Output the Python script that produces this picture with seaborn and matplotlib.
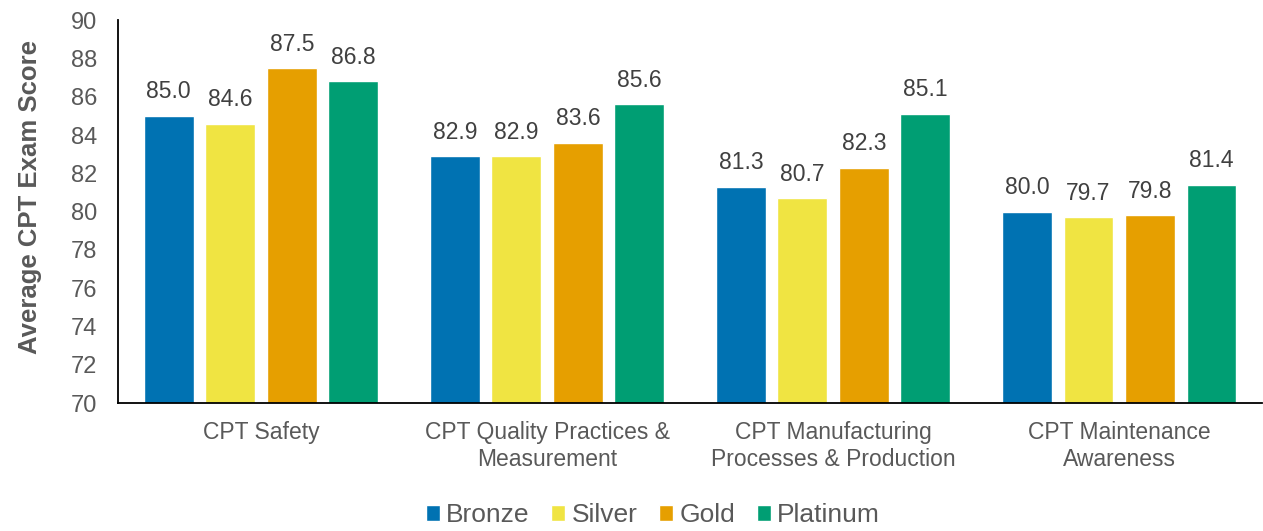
import matplotlib
matplotlib.use("Agg")
import matplotlib.pyplot as plt
import pandas as pd
import seaborn as sns

categories = ["CPT Safety", "CPT Quality Practices &\nMeasurement",
              "CPT Manufacturing\nProcesses & Production", "CPT Maintenance\nAwareness"]
levels = ["Bronze", "Silver", "Gold", "Platinum"]
bronze = [85.0, 82.9, 81.3, 80.0]
silver = [84.6, 82.9, 80.7, 79.7]
gold = [87.5, 83.6, 82.3, 79.8]
platinum = [86.8, 85.6, 85.1, 81.4]
colors = ["#0072B2", "#F0E442", "#E69F00", "#009E73"]

rows = []
for lvl, vals in zip(levels, [bronze, silver, gold, platinum]):
    for cat, v in zip(categories, vals):
        rows.append({"category": cat, "level": lvl, "score": v})
df = pd.DataFrame(rows)

sns.set_style("white")
plt.rcParams["font.family"] = ["Liberation Sans", "DejaVu Sans"]
grey = "#595959"

fig = plt.figure(figsize=(12.63, 5.31), dpi=100)
ax = fig.add_axes([0.0934, 0.241, 0.906, 0.721])

sns.barplot(data=df, x="category", y="score", hue="level", palette=colors,
            saturation=1, width=0.86, gap=0.19, ax=ax, errorbar=None, legend=True)

for cont in ax.containers:
    ax.bar_label(cont, fmt="%.1f", padding=9, fontsize=16.5, color="#404040")

ax.set_ylim(70, 90)
ax.set_xlim(-0.5, 3.5)
ax.set_yticks(range(70, 91, 2))
ax.tick_params(axis="y", labelsize=17, labelcolor=grey, length=0, pad=15)
ax.tick_params(axis="x", labelsize=16.5, labelcolor=grey, length=0, pad=13)
ax.set_xlabel("")
ax.set_ylabel("Average CPT Exam Score", fontsize=18.5, fontweight="bold", color=grey)
ax.yaxis.set_label_coords(-0.066, 0.538)
for s in ["top", "right"]:
    ax.spines[s].set_visible(False)
for s in ["left", "bottom"]:
    ax.spines[s].set_color("black")
    ax.spines[s].set_linewidth(1.3)

handles, labels = ax.get_legend_handles_labels()
ax.legend(handles, labels, loc="lower center", bbox_to_anchor=(0.517, -0.038),
          bbox_transform=fig.transFigure, ncol=4, frameon=False, fontsize=19,
          handlelength=0.53, handleheight=0.53, handletextpad=0.23,
          columnspacing=0.83, labelcolor=grey)

fig.savefig("out.png", dpi=100)
